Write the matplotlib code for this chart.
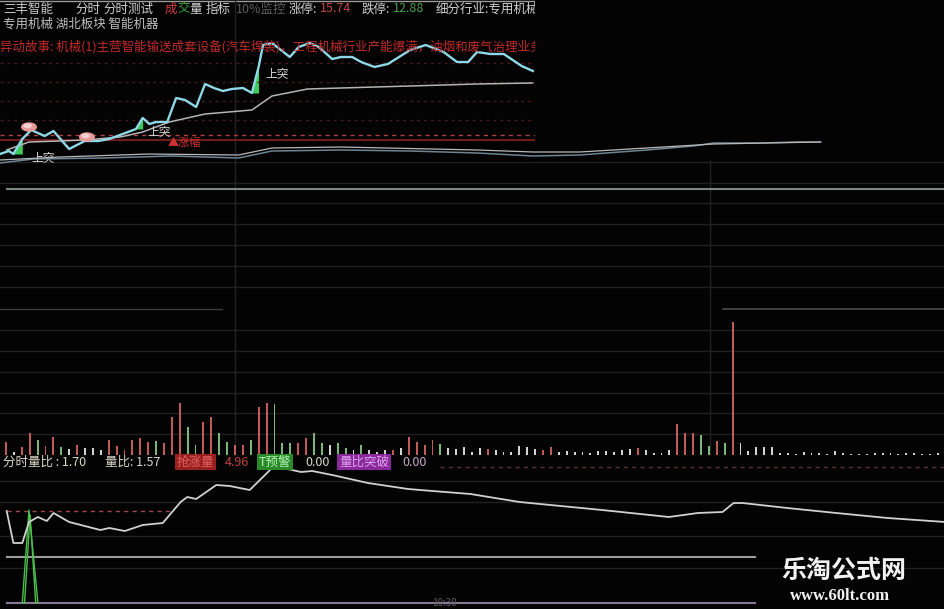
import numpy as np
import matplotlib.pyplot as plt
from matplotlib.patches import Ellipse

plt.rcParams['font.family'] = ['Noto Sans CJK SC', 'DejaVu Sans']

W, H = 945, 609

# ---- intraday price (top-left inset), minutes 0..240 ----
price_t = [0, 4, 6, 10, 14, 20, 24, 31, 38, 44, 49, 55, 61, 64, 67, 70, 75, 79, 83, 88,
           92, 96, 100, 104, 109, 113, 116, 118, 122, 126, 130, 134, 139, 143, 149, 153,
           158, 162, 168, 174, 184, 191, 199, 205, 210, 214, 220, 226, 234, 239]
price = [14.26, 14.29, 14.26, 14.41, 14.50, 14.44, 14.49, 14.31, 14.39, 14.39, 14.41,
         14.46, 14.51, 14.62, 14.56, 14.58, 14.58, 14.82, 14.80, 14.73, 14.96, 14.92,
         14.89, 14.91, 14.92, 14.87, 15.13, 15.35, 15.37, 15.30, 15.23, 15.33, 15.37,
         15.33, 15.21, 15.23, 15.23, 15.18, 15.13, 15.16, 15.30, 15.35, 15.28, 15.18,
         15.18, 15.28, 15.26, 15.26, 15.14, 15.09]
avg_t = [3, 13, 27, 38, 54, 64, 76, 92, 113, 122, 138, 153, 184, 214, 239]
avg = [14.30, 14.38, 14.39, 14.40, 14.43, 14.48, 14.58, 14.66, 14.70, 14.84, 14.91,
       14.92, 14.94, 14.96, 14.97]
up_idx = [3, 13, 26]
up_text_t = [14, 66, 119]
up_text_p = [14.22, 14.48, 15.06]
ball_t = [13, 39]
ball_p = [14.53, 14.43]
red_grid = [15.17, 14.98, 14.79, 14.60]
prev_close_dash = 14.45
prev_close_line = 14.40

# ---- index lines under the inset ----
idx_a_t = [0, 15, 46, 77, 107, 122, 153, 184, 214, 239, 260, 290, 311, 320, 342, 357, 368]
idx_a = [14.17, 14.21, 14.22, 14.24, 14.22, 14.29, 14.30, 14.29, 14.27, 14.24, 14.25,
         14.30, 14.34, 14.37, 14.37, 14.38, 14.38]
idx_b_t = [0, 27, 67, 107, 122, 153, 214, 239, 260, 290, 320, 368]
idx_b = [14.20, 14.23, 14.26, 14.25, 14.32, 14.33, 14.30, 14.28, 14.28, 14.32, 14.36, 14.38]

# ---- volume bars ----
vol = [13, 3, 8, 22, 15, 9, 18, 8, 6, 10, 7, 7, 5, 15, 9, 5, 15, 17, 13, 14,
       12, 38, 52, 28, 10, 33, 38, 22, 13, 10, 10, 15, 48, 52, 51, 12, 12, 12, 17, 22,
       12, 10, 12, 7, 5, 10, 5, 3, 5, 5, 7, 18, 13, 10, 15, 11, 7, 6, 8,
       3, 7, 6, 5, 3, 3, 9, 8, 6, 5, 8, 3, 4, 3, 3, 2, 4, 4, 3, 5,
       6, 7, 5, 2, 2, 5, 31, 22, 22, 20, 9, 14, 12, 133, 12, 4, 8, 8, 8, 2,
       2, 1, 3, 2, 2, 1, 4, 2, 1, 1, 1, 2, 2, 2, 1, 2, 2, 1, 1, 2]
vol_dir = ("rwrrgrrgwr" "wwwrrrrrrg" "rrrggrrggr" "rgrrgggrrg" "gwggwgwwwr" "wrrrrgwww"
           "wwrwwwwwwr" "rwwwwwwwww" "wrwwwwrrrg" "grgrwwwwww" "wwwwwwwwww" "wwwwwwwwww")

# ---- indicator (bottom panel) ----
ind_t = [3, 6, 10, 13, 17, 21, 24, 31, 45, 49, 56, 64, 73, 81, 84, 88, 97, 103, 112,
         122, 129, 135, 140, 149, 165, 183, 194, 211, 233, 270, 300, 313, 324, 329, 333,
         353, 375, 398, 424]
ind = [4.6, 1.4, 1.4, 3.5, 4.0, 3.6, 4.4, 3.5, 2.7, 2.9, 2.6, 3.2, 3.4, 5.5, 6.0, 5.8,
       7.2, 7.1, 6.7, 8.9, 8.8, 8.5, 8.6, 8.2, 7.4, 6.8, 6.6, 6.3, 5.5, 4.7, 4.0, 4.4,
       4.5, 5.4, 5.4, 4.9, 4.4, 3.9, 3.5]
spike_t = [10, 13, 17]
spike = [-4.6, 4.7, -4.6]
spike2_t = [11, 13.5, 16]
spike2 = [-4.6, 4.2, -4.6]

grid_y = [162, 183, 203, 224, 245, 266, 287, 330, 351, 372, 393, 413, 434,
          481, 502, 536, 568]

BG = '#030303'
fig = plt.figure(figsize=(W / 100, H / 100), dpi=100, facecolor=BG)


def rect(x0, y0, x1, y1):
    return [x0 / W, 1 - y1 / H, (x1 - x0) / W, (y1 - y0) / H]


bg = fig.add_axes([0, 0, 1, 1], zorder=0)
bg.set_xlim(0, W)
bg.set_ylim(H, 0)
bg.axis('off')
for y in grid_y:
    bg.axhline(y, color='#202020', lw=1)
bg.plot([0, 222], [309, 309], color='#3c3c3c', lw=1)
bg.plot([723, 945], [309, 309], color='#4a4a4a', lw=1.2)
bg.plot([235, 235], [160, 455], color='#222222', lw=1)
bg.plot([710, 710], [160, 455], color='#222222', lw=1)
bg.plot([7, 945], [189, 189], color='#7a8a7e', lw=1.5)
bg.plot([7, 755], [557, 557], color='#9c9c9c', lw=1.5)
bg.plot([7, 755], [603, 603], color='#8a7896', lw=1.5)
bg.plot([440, 945], [467, 467], color='#5a3030', lw=1, ls=(0, (3, 3)))
bg.plot([7, 170], [511, 511], color='#a04848', lw=1, ls=(0, (3, 3)))

# top-left inset with price line
ax = fig.add_axes(rect(0, 0, 535, 162), zorder=2)
ax.set_facecolor(BG)
ax.set_xlim(0, 240)
ax.set_ylim(14.18, 15.80)
for s in ax.spines.values():
    s.set_visible(False)
ax.set_xticks([])
ax.set_yticks([])
ax.axhline(15.795, color='#9a9a9a', lw=1)
for lv in red_grid:
    ax.axhline(lv, color='#4a1a1a', lw=1, ls=(0, (2, 3)))
ax.axvline(105.4, color='#222222', lw=1)
ax.axhline(prev_close_dash, color='#b04040', lw=1, ls=(0, (3, 3)))
ax.axhline(prev_close_line, color='#701c1c', lw=1.5)
ax.plot(avg_t, avg, color='#b4b4b4', lw=1.1)
ax.plot(price_t, price, color='#8fd8e8', lw=1.7)
for i in up_idx:
    ax.fill_between(price_t[i - 1:i + 1], price[i - 1:i + 1], price[i - 1],
                    color='#3ccc5a', lw=0)
for t, p in zip(up_text_t, up_text_p):
    ax.text(t, p, '上突', color='#d8d8d8', fontsize=8.5, va='center')
for t, p in zip(ball_t, ball_p):
    ax.add_patch(Ellipse((t, p), 6.5, 0.08, color='#e89a9a', zorder=4))
    ax.add_patch(Ellipse((t - 0.6, p + 0.012), 3.2, 0.035, color='#f6d0d0', zorder=5))
ax.text(75, 14.37, '▲涨幅', color='#d03030', fontsize=8, va='center')


def tt(x, y, s, c, **kw):
    ax.text(x / 535, 1 - y / 162, s, color=c, fontsize=9, va='center',
            transform=ax.transAxes, clip_on=True, **kw)


tt(3, 9, '三丰智能', '#c8c8c8')
tt(75, 9, '分时', '#d0d0d0')
tt(103, 9, '分时测试', '#d0d0d0')
tt(165, 9, '成', '#d03c3c')
tt(177, 9, '交', '#3ca03c')
tt(189, 9, '量', '#d0d0d0')
tt(206, 9, '指标', '#d0d0d0')
tt(236, 9, '10%监控', '#5c5c5c')
tt(289, 9, '涨停:', '#d0d0d0')
tt(320, 9, '15.74', '#c04848')
tt(362, 9, '跌停:', '#d0d0d0')
tt(393, 9, '12.88', '#4a9a4a')
tt(436, 9, '细分行业:专用机械', '#d0d0d0')
tt(3, 24, '专用机械 湖北板块 智能机器', '#c0c0c0')
tt(0, 47, '异动故事: 机械(1)主营智能输送成套设备(汽车焊装)，工程机械行业产能爆满，油烟和废气治理业务',
   '#c02a2a')

# index lines spanning under the inset
axm = fig.add_axes(rect(0, 130, 945, 200), zorder=3)
axm.patch.set_alpha(0)
axm.axis('off')
axm.set_xlim(0, 423.8)
axm.set_ylim(13.80, 14.50)
axm.plot(idx_a_t, idx_a, color='#6c8494', lw=1.1)
axm.plot(idx_b_t, idx_b, color='#b8b8b8', lw=0.9)

# volume
axv = fig.add_axes(rect(0, 300, 945, 455), zorder=2)
axv.patch.set_alpha(0)
axv.axis('off')
axv.set_xlim(-0.76, 118.9)
axv.set_ylim(0, 155)
cmap = {'r': '#c25a5a', 'g': '#7ab87a', 'w': '#d4d4d4'}
axv.bar(np.arange(len(vol)), vol, width=0.24, color=[cmap[c] for c in vol_dir])

# indicator panel
axi = fig.add_axes(rect(0, 455, 945, 609), zorder=2)
axi.patch.set_alpha(0)
axi.axis('off')
axi.set_xlim(0, 423.8)
axi.set_ylim(-5.2, 10.2)
axi.plot(spike_t, spike, color='#4cc04c', lw=1)
axi.plot(spike2_t, spike2, color='#4cc04c', lw=1)
axi.plot(ind_t, ind, color='#d0d0d0', lw=1.3)


def ft(x, y, s, c, **kw):
    fig.text(x / W, 1 - y / H, s, color=c, va='center', **kw)


ft(3, 462, '分时量比 : 1.70', '#d8d8c8', fontsize=9)
ft(105, 462, '量比: 1.57', '#d8d8c8', fontsize=9)
ft(177, 462, '抢涨量', '#e06060', fontsize=9,
   bbox=dict(facecolor='#9a2020', edgecolor='none', pad=1.2))
ft(225, 462, '4.96', '#c04040', fontsize=9)
ft(259, 462, 'T预警', '#b0f0b0', fontsize=9,
   bbox=dict(facecolor='#2a8a2a', edgecolor='none', pad=1.2))
ft(305, 462, '0.00', '#d8d8c8', fontsize=9)
ft(339, 462, '量比突破', '#e0a0f0', fontsize=9,
   bbox=dict(facecolor='#8a2a9a', edgecolor='none', pad=1.2))
ft(402, 462, '0.00', '#c8a8c8', fontsize=9)
ft(432, 603, '10:30', '#5a5a5a', fontsize=7)

ft(844, 571, '乐淘公式网', '#f2f2f2', fontsize=18, fontweight='bold', ha='center')
fig.text(840 / W, 1 - 596 / H, 'www.60lt.com', color='#f2f2f2', fontsize=12,
         fontweight='bold', ha='center', va='center', family='Liberation Serif')

fig.savefig('out.png', dpi=100, facecolor=BG)
